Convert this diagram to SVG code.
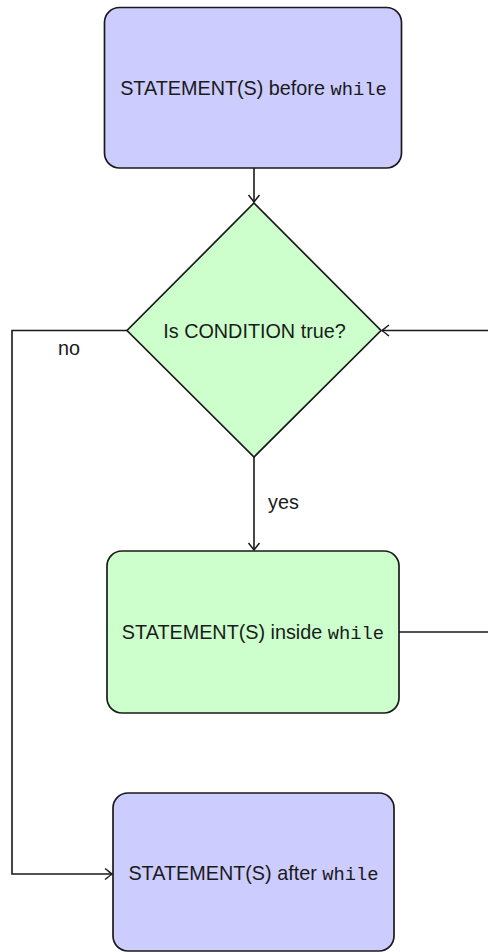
<svg xmlns="http://www.w3.org/2000/svg" width="488" height="952" viewBox="0 0 488 952">
<style>
.blue{fill:#ccccff;stroke:#1a1a1a;stroke-width:1.7}
.green{fill:#ccffcc;stroke:#1a1a1a;stroke-width:1.7}
.lbl{font-family:"Liberation Sans",Arial,sans-serif;font-size:19.8px;fill:#1a1a1a;text-anchor:middle}
.small{font-family:"Liberation Sans",Arial,sans-serif;font-size:19.8px;fill:#1a1a1a}
.mono{font-family:"Liberation Mono","DejaVu Sans Mono",monospace;font-size:18.8px}
.edge{fill:none;stroke:#1a1a1a;stroke-width:1.6}
</style>
<defs>
<marker id="arr" markerUnits="userSpaceOnUse" markerWidth="16" markerHeight="16" viewBox="-10 -8 12 16" refX="0" refY="0" orient="auto" overflow="visible">
<path d="M-7,-5.5 Q-2,-1.5 0,0 Q-2,1.5 -7,5.5" fill="none" stroke="#1a1a1a" stroke-width="1.5"/>
</marker>
</defs>
<g id="connectors">
<path class="edge" d="M254,168 V202" marker-end="url(#arr)"/>
<path class="edge" d="M254,457 V550" marker-end="url(#arr)"/>
<path class="edge" d="M127,330.5 H12 V874 H112" marker-end="url(#arr)"/>
<path class="edge" d="M399,632 H500 V330.5 H382" marker-end="url(#arr)"/>
<text class="small" x="58" y="355">no</text>
<text class="small" x="268" y="509">yes</text>
</g>
<g id="before">
<rect class="blue" x="104.5" y="7.5" width="297" height="160.5" rx="15"/>
<text class="lbl" x="253.5" y="94.5">STATEMENT(S) before <tspan class="mono">while</tspan></text>
</g>
<g id="condition">
<polygon class="green" points="254,203 381,330.5 254,457 127,330.5"/>
<text class="lbl" x="254.5" y="337.5">Is CONDITION true?</text>
</g>
<g id="inside">
<rect class="green" x="107" y="551" width="292" height="162" rx="15"/>
<text class="lbl" x="253" y="638.5">STATEMENT(S) inside <tspan class="mono">while</tspan></text>
</g>
<g id="after">
<rect class="blue" x="113" y="793" width="281" height="158" rx="15"/>
<text class="lbl" x="253.5" y="879.5">STATEMENT(S) after <tspan class="mono">while</tspan></text>
</g>
</svg>
